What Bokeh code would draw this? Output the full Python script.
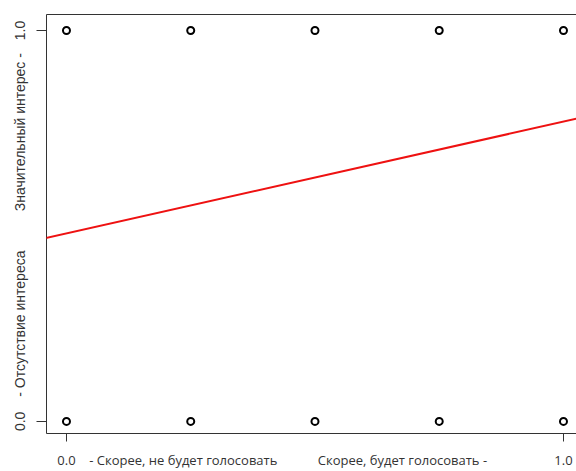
from bokeh.plotting import figure
from bokeh.models import Range1d, FixedTicker, LinearAxis, Slope
from bokeh.embed import file_html
from bokeh.resources import INLINE

# data
point_x = [0.0, 0.25, 0.5, 0.75, 1.0, 0.0, 0.25, 0.5, 0.75, 1.0]
point_y = [0, 0, 0, 0, 0, 1, 1, 1, 1, 1]
fit_intercept = 0.481
fit_slope = 0.286
tick_values = [0, 1]
x_texts = ["0.0", "- Скорее, не будет голосовать", "Скорее, будет голосовать -", "1.0"]
x_text_pos = [0, 0.235, 0.676, 1]
y_texts = ["0.0", "- Отсутствие интереса", "Значительный интерес -", "1.0"]
y_text_pos = [0, 0.25, 0.74, 1]

p = figure(width=576, height=471, output_backend="svg", toolbar_location=None,
           x_range=Range1d(-0.0402, 1.0262), y_range=Range1d(-0.031, 1.041),
           min_border_left=46, min_border_right=0, min_border_top=14, min_border_bottom=36)
p.outline_line_color = None
p.grid.visible = False
p.background_fill_color = "white"

for ax, pos, txt in ((p.xaxis[0], x_text_pos, x_texts), (p.yaxis[0], y_text_pos, y_texts)):
    ax.ticker = FixedTicker(ticks=pos, minor_ticks=tick_values)
    ax.major_label_overrides = {v: t for v, t in zip(pos, txt)}
    ax.major_tick_line_color = None
    ax.minor_tick_line_color = "#333333"
    ax.axis_line_color = "#333333"
    ax.major_tick_in = 0
    ax.minor_tick_in = 0
    ax.major_label_text_color = "#333333"
    ax.major_label_text_line_height = 1.0

p.xaxis[0].major_label_text_font = "Open Sans"
p.xaxis[0].major_label_text_font_size = "13px"
p.xaxis[0].major_tick_out = 8
p.xaxis[0].minor_tick_out = 8
p.xaxis[0].major_label_standoff = 9

p.yaxis[0].major_label_text_font = "Liberation Sans"
p.yaxis[0].major_label_text_font_size = "14px"
p.yaxis[0].major_tick_out = 10
p.yaxis[0].minor_tick_out = 10
p.yaxis[0].major_label_standoff = 8
p.yaxis[0].major_label_orientation = "vertical"

top = LinearAxis(major_tick_line_color=None, minor_tick_line_color=None,
                 major_label_text_font_size="0px", axis_line_color="#333333")
top.ticker = FixedTicker(ticks=[])
p.add_layout(top, "above")

p.scatter(point_x, point_y, marker="circle", size=7, fill_color=None,
          line_color="black", line_width=2)

p.add_layout(Slope(gradient=fit_slope, y_intercept=fit_intercept,
                   line_color="#ee1111", line_width=2))

open("out.html", "w").write(file_html(p, INLINE))
